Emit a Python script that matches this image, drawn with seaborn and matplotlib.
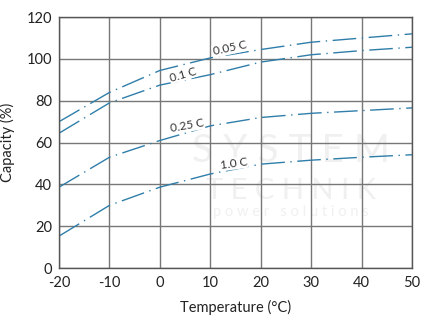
import numpy as np
import pandas as pd
import matplotlib
matplotlib.use("Agg")
import matplotlib.pyplot as plt
import seaborn as sns

# Discharge capacity vs. temperature for several discharge rates
temperature = [-20, -10, 0, 10, 20, 30, 40, 50]
cap_005c = [70, 84, 94.5, 100.5, 104.5, 108, 110, 112]
cap_01c = [64.5, 79, 87.5, 92.5, 98.5, 102, 104, 105.6]
cap_025c = [38.7, 53, 61, 68, 72, 74, 75.3, 76.6]
cap_10c = [15.3, 30, 38.7, 45, 49.7, 51.6, 53, 54.2]
rates = ["0.05 C", "0.1 C", "0.25 C", "1.0 C"]
x_ticks = [-20, -10, 0, 10, 20, 30, 40, 50]
y_ticks = [0, 20, 40, 60, 80, 100, 120]

df = pd.DataFrame({
    "Temperature": temperature * 4,
    "Capacity": cap_005c + cap_01c + cap_025c + cap_10c,
    "Rate": sum([[r] * len(temperature) for r in rates], []),
})

sns.set_theme(style="white")
plt.rcParams["font.family"] = ["Lato", "DejaVu Sans"]

fig = plt.figure(figsize=(4.44, 3.23), dpi=100)
ax = fig.add_axes([0.133, 0.170, 0.795, 0.777])

line_color = "#2f7eaa"
sns.lineplot(data=df, x="Temperature", y="Capacity", hue="Rate",
             palette=[line_color] * 4, legend=False, ax=ax, lw=1.0)
for ln in ax.get_lines():
    ln.set_dashes((17, 4, 1, 4))

# light watermark
wm = dict(color="#f0f0f0", ha="center", va="center", zorder=0.5)
ax.text(26, 56, "S Y S T E M", fontsize=28, **wm)
ax.text(26, 37, "T E C H N I K", fontsize=21, **wm)
ax.text(26, 27, "p o w e r   s o l u t i o n s", fontsize=10.5, **wm)

# rate labels on the curves
label_pos = [(13.8, 105.0, 12), (4.6, 92.6, 16), (5.4, 68.0, 10), (14.7, 50.0, 8)]
for txt, (lx, ly, rot) in zip(rates, label_pos):
    ax.text(lx, ly, txt, fontsize=8.5, color="#333333", rotation=rot,
            ha="center", va="center", zorder=5,
            bbox=dict(boxstyle="square,pad=0.05", fc="white", ec="none"))

ax.set_xlim(-20, 50)
ax.set_ylim(0, 120)
ax.set_xticks(x_ticks)
ax.set_yticks(y_ticks)
ax.set_xticklabels([str(v) for v in x_ticks])
ax.set_yticklabels([str(v) for v in y_ticks])
ax.tick_params(axis="both", labelsize=10.5, colors="#222222", length=0)
ax.tick_params(axis="x", pad=6)
ax.tick_params(axis="y", pad=5)
ax.grid(True, color="#777777", lw=1.0)
ax.set_axisbelow(True)
for sp in ax.spines.values():
    sp.set_color("#555555")
    sp.set_linewidth(1.0)
ax.set_xlabel("Temperature (°C)", fontsize=10.5, color="#222222", labelpad=7)
ax.set_ylabel("Capacity (%)", fontsize=10.5, color="#222222", labelpad=8)

fig.savefig("out.png", dpi=100)
